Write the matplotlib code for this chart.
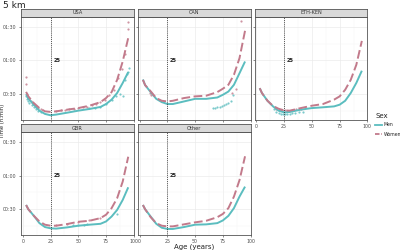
import matplotlib.pyplot as plt

# fitted curves, time in minutes
ages = [3, 5, 10, 15, 20, 25, 30, 40, 50, 60, 70, 75, 80, 85, 90, 95]

usa_men = [30, 26, 20.6, 15.3, 12.4, 11.2, 11.8, 13.5, 15.3, 16.8, 18.6, 21.2, 25.1, 31.0, 39.9, 49.6]
usa_women = [32, 28, 22, 17.6, 14.7, 14.2, 14.7, 16.2, 17.6, 19.7, 22.9, 26.5, 31.8, 42.7, 59, 80]
can_men = [43, 38, 31.8, 25.8, 22.9, 21.2, 21.2, 23.5, 25.8, 25.8, 27, 29.4, 32.3, 38.3, 48.6, 59]
can_women = [42.7, 38, 32.5, 26.5, 24.1, 23.5, 24.1, 26.5, 28, 28.6, 31.8, 34.8, 38.3, 47.2, 62, 86.4]
eth_men = [35.3, 31, 24.1, 19.1, 15.3, 13.8, 14.1, 16.2, 17.6, 18.3, 19.1, 20.6, 24.1, 31.0, 39.9, 50.8]
eth_women = [35.3, 31, 24.1, 19.5, 17, 15.6, 15.3, 17.6, 19.7, 21.2, 25.1, 28, 33.9, 42.7, 56, 77.3]
gbr_men = [33.8, 30, 24.1, 17.6, 14.1, 13, 12.7, 13.8, 15.3, 16.2, 17, 19.1, 23.5, 29.4, 38.3, 49.6]
gbr_women = [33.8, 30, 24.1, 19.1, 16.2, 15.3, 15.3, 16.8, 18.8, 19.7, 22.1, 25.1, 31, 39.9, 54.7, 76.9]
oth_men = [33.8, 30, 23.5, 17, 13.5, 12.4, 12.4, 14.1, 16.2, 16.5, 17.6, 20, 24.1, 31, 41.3, 50.2]
oth_women = [33.8, 30, 22.9, 17.6, 15.3, 14.7, 14.7, 16.5, 18.3, 19.7, 22.9, 25.8, 31, 41.3, 56, 77.3]

# observed points
usa_w_age = [3, 3, 4, 5, 6, 7, 8, 9, 10, 12, 14, 16, 30, 34, 38, 42, 46, 50, 54, 58, 62, 66, 70, 74, 78, 82, 86, 89, 92, 95, 95]
usa_w_t = [45.6, 39.1, 30, 27, 25.5, 24, 23, 21.5, 21, 19, 17.5, 16.5, 15, 15.5, 16, 16.5, 17, 17.5, 18.5, 19, 20, 21, 23, 25, 29, 34, 44, 52, 66, 93.9, 88.2]
usa_m_age = [3, 4, 5, 6, 8, 10, 12, 14, 16, 60, 65, 70, 75, 80, 84, 88, 90, 92, 94, 95, 96]
usa_m_t = [28, 26, 24, 22.5, 20, 18.5, 16.5, 15, 14, 17.5, 18, 19, 21, 25, 28, 30, 28, 43, 48, 50, 53]
can_w_age = [9, 10, 83, 87, 91]
can_w_t = [31, 29.5, 31, 34.4, 95]
can_m_age = [66, 68, 70, 72, 74, 76, 78, 80, 82, 84]
can_m_t = [17.5, 17.8, 18.2, 18.8, 19.5, 20.5, 21.3, 22.5, 24, 29]
eth_w_age = [18, 20, 22, 24, 26, 28, 32, 36, 40]
eth_w_t = [16.5, 16, 15.5, 16, 15.5, 15, 16, 16.5, 17]
eth_m_age = [16, 18, 20, 22, 24, 26, 28, 30, 32, 35, 38, 42]
eth_m_t = [17, 14.5, 13, 12.5, 12, 12.2, 12, 12.5, 13, 13.5, 14, 14.5]
gbr_w_age = [30, 40, 50, 60, 70]
gbr_w_t = [15.8, 17, 18.5, 20, 22.5]
gbr_m_age = [45, 50, 55, 58, 85]
gbr_m_t = [15.5, 15.8, 16.2, 16.5, 25.6]

y_ticks = [30, 60, 90]
y_labels = ['00:30', '01:00', '01:30']
x_ticks = [0, 25, 50, 75, 100]

men_col = '#5BBDBF'
women_col = '#C27A8B'

panels = [
    ('USA', usa_men, usa_women, (usa_m_age, usa_m_t), (usa_w_age, usa_w_t)),
    ('CAN', can_men, can_women, (can_m_age, can_m_t), (can_w_age, can_w_t)),
    ('ETH-KEN', eth_men, eth_women, (eth_m_age, eth_m_t), (eth_w_age, eth_w_t)),
    ('GBR', gbr_men, gbr_women, (gbr_m_age, gbr_m_t), (gbr_w_age, gbr_w_t)),
    ('Other', oth_men, oth_women, ([], []), ([], [])),
]

W, H = 400, 250
fig = plt.figure(figsize=(4, 2.5), dpi=100)

lefts = [21, 137.8, 254.6]
pw = 112.8
rows = [(16.5, 120, 8.5), (132, 235, 123.5)]  # panel top, bottom, strip top

for i, (name, m, w, mpts, wpts) in enumerate(panels):
    r, c = divmod(i, 3)
    top, bot, stop = rows[r]
    x0 = lefts[c]
    ax = fig.add_axes([x0 / W, 1 - bot / H, pw / W, (bot - top) / H])
    st = fig.add_axes([x0 / W, 1 - top / H, pw / W, (top - stop) / H])
    st.set_facecolor('#D9D9D9')
    st.set_xticks([])
    st.set_yticks([])
    for s in st.spines.values():
        s.set_color('#555555')
        s.set_linewidth(0.6)
    st.text(0.5, 0.45, name, ha='center', va='center', fontsize=3.6, color='#333333', transform=st.transAxes)

    ax.set_xlim(-1.6, 99.6)
    ax.set_ylim(7, 99)
    ax.set_xticks(x_ticks)
    ax.set_xticks([12.5, 37.5, 62.5, 87.5], minor=True)
    ax.set_yticks(y_ticks)
    ax.set_yticks([15, 45, 75], minor=True)
    ax.grid(True, which='major', color='#EBEBEB', linewidth=0.5)
    ax.grid(True, which='minor', color='#F3F3F3', linewidth=0.3)
    ax.set_axisbelow(True)
    for s in ax.spines.values():
        s.set_color('#555555')
        s.set_linewidth(0.6)
    ax.tick_params(which='major', length=1.5, width=0.4, color='#333333', labelsize=3.4, labelcolor='#4D4D4D', pad=1.5)
    ax.tick_params(which='minor', length=0)
    if c == 0:
        ax.set_yticklabels(y_labels)
    else:
        ax.set_yticklabels([])
    if r == 1 or c == 2:
        ax.set_xticklabels([str(v) for v in x_ticks])
    else:
        ax.set_xticklabels([])

    ax.scatter(wpts[0], wpts[1], s=2.5, color=women_col, alpha=0.8, linewidths=0, zorder=2)
    ax.scatter(mpts[0], mpts[1], s=2.5, color=men_col, alpha=0.8, linewidths=0, zorder=2)
    ax.plot(ages, m, color=men_col, lw=1.4, solid_capstyle='butt', zorder=3)
    ax.plot(ages, w, color=women_col, lw=1.4, dashes=(4.5, 1.8), zorder=3)

    ax.axvline(25, color='#222222', lw=0.6, ls=(0, (1, 1.3)), zorder=4)
    ax.text(27.5, 60, '25', fontsize=3.6, color='#222222', va='center', ha='left', fontweight='bold')

fig.text(3 / W, 1 - 5 / H, '5 km', fontsize=6.5, color='#222222', va='center', ha='left')
fig.text(194 / W, 1 - 247 / H, 'Age (years)', fontsize=5, color='#222222', ha='center', va='center')
fig.text(2.5 / W, 1 - 121 / H, 'Time (h:min)', fontsize=3.8, color='#222222', ha='center', va='center', rotation=90)

# legend
fig.text(375 / W, 1 - 116.5 / H, 'Sex', fontsize=5, color='#222222', ha='left', va='center')
fig.lines.append(plt.Line2D([375 / W, 382 / W], [1 - 125 / H] * 2, transform=fig.transFigure, color=men_col, lw=1.3))
fig.lines.append(plt.Line2D([375 / W, 382 / W], [1 - 134 / H] * 2, transform=fig.transFigure, color=women_col, lw=1.3, dashes=(2.5, 1)))
fig.text(384 / W, 1 - 125 / H, 'Men', fontsize=3.3, color='#222222', ha='left', va='center')
fig.text(384 / W, 1 - 134 / H, 'Women', fontsize=3.3, color='#222222', ha='left', va='center')

fig.savefig('out.png', dpi=100)
